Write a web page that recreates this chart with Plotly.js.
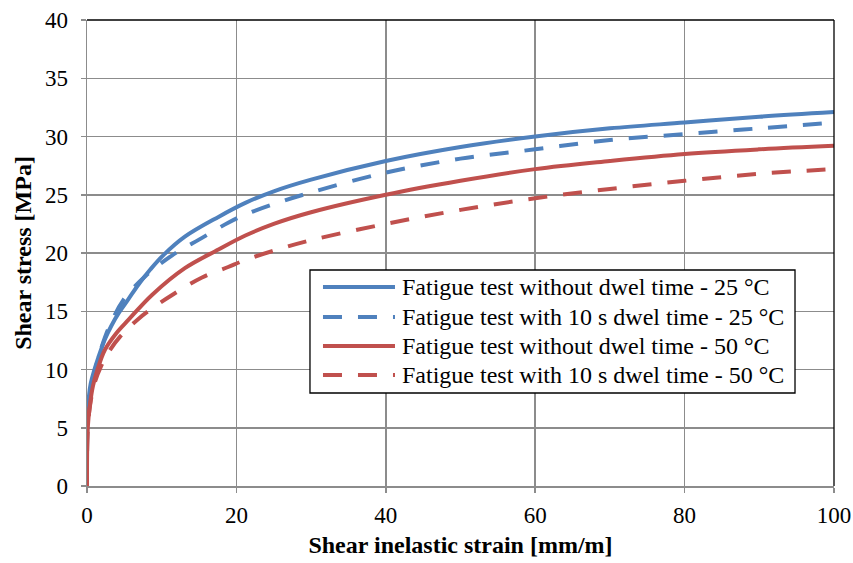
<!DOCTYPE html>
<html>
<head>
<meta charset="utf-8">
<script src="https://cdn.plot.ly/plotly-3.0.1.min.js"></script>
<style>html,body{margin:0;padding:0;background:#fff;}#chart{width:853px;height:563px;}</style>
</head>
<body>
<div id="chart"></div>
<script>
// Series data
const seriesNames = [
  "Fatigue test without dwel time - 25 °C",
  "Fatigue test with 10 s dwel time - 25 °C",
  "Fatigue test without dwel time - 50 °C",
  "Fatigue test with 10 s dwel time - 50 °C"
];
const x25NoDwell = [0, 0.05, 0.2, 0.5, 1, 1.5, 2.4, 3.3, 4.3, 5.5, 6.9, 8.5, 10.2, 13.1, 17.6, 21.2, 25, 30, 40, 50, 60, 70, 80, 90, 100];
const y25NoDwell = [0, 5.5, 7.3, 8.8, 10, 11.0, 12.6, 13.8, 14.9, 16.0, 17.3, 18.6, 19.8, 21.4, 23.1, 24.3, 25.3, 26.3, 27.9, 29.1, 30.0, 30.7, 31.2, 31.7, 32.1];

const x25Dwell = [0, 0.1, 0.4, 1.1, 2, 3, 4.9, 7.8, 11.4, 15.4, 18.9, 21.2, 25, 30, 40, 50, 60, 70, 80, 90, 100];
const y25Dwell = [0, 6, 8, 10, 12, 13.7, 16.0, 18.0, 19.8, 21.3, 22.6, 23.3, 24.2, 25.2, 26.9, 28.1, 28.9, 29.7, 30.2, 30.7, 31.2];

const x50NoDwell = [0, 0.1, 0.4, 0.8, 1.4, 2.4, 3.9, 5.6, 8.7, 13.1, 17.6, 21.2, 25, 30, 40, 50, 60, 70, 80, 90, 100];
const y50NoDwell = [0, 5, 7, 8.6, 10, 11.7, 13.1, 14.3, 16.4, 18.7, 20.3, 21.5, 22.5, 23.5, 25.0, 26.2, 27.2, 27.9, 28.5, 28.9, 29.2];

const x50Dwell = [0, 0.1, 0.5, 1.0, 1.9, 3, 4.4, 6.8, 9.5, 11.4, 15.4, 18.9, 21.2, 25, 30, 40, 50, 60, 70, 80, 90, 100];
const y50Dwell = [0, 5, 7.3, 8.8, 10.3, 11.6, 12.8, 14.3, 15.6, 16.4, 17.9, 18.8, 19.4, 20.2, 21.1, 22.5, 23.7, 24.7, 25.5, 26.2, 26.8, 27.2];

const xTicks = [0, 20, 40, 60, 80, 100];
const yTicks = [0, 5, 10, 15, 20, 25, 30, 35, 40];

const blue = "#4F81BD", red = "#C0504D";
const colors = [blue, blue, red, red];
const dashPat = "19px,16px";
const dashes = ["solid", dashPat, "solid", dashPat];
const lineW = 4;

function tr(x, y, i) {
  return {x: x, y: y, name: seriesNames[i], type: "scatter", mode: "lines", showlegend: false,
    line: {color: colors[i], width: lineW, dash: dashes[i], shape: "spline", smoothing: 1}};
}
const data = [
  tr(x25NoDwell, y25NoDwell, 0),
  tr(x25Dwell, y25Dwell, 1),
  tr(x50NoDwell, y50NoDwell, 2),
  tr(x50Dwell, y50Dwell, 3)
];

const font = "Times New Roman, Liberation Serif, serif";
const tickFs = 23, titleFs = 24, legendFs = 24;

// Legend box (paper coordinates), drawn as shapes + annotations
const legBox = {x0: 0.2985, x1: 0.9478, y0: 0.1996, y1: 0.4635};
const legRowsY = [0.4270, 0.3627, 0.3004, 0.2382];
const legSample = {x0: 0.3159, x1: 0.4123};
const legTextX = 0.4190;

const shapes = [
  {type: "line", xref: "paper", yref: "paper", x0: 0, x1: 1, y0: 1, y1: 1, line: {color: "#000", width: 1.3}},
  {type: "line", xref: "paper", yref: "paper", x0: 1, x1: 1, y0: 0, y1: 1, line: {color: "#000", width: 1.3}},
  {type: "rect", xref: "paper", yref: "paper", x0: legBox.x0, x1: legBox.x1, y0: legBox.y0, y1: legBox.y1,
    fillcolor: "#fff", line: {color: "#000", width: 1.3}, layer: "above"}
];
const annotations = [];
seriesNames.forEach((n, i) => {
  shapes.push({type: "line", xref: "paper", yref: "paper", layer: "above",
    x0: legSample.x0, x1: legSample.x1, y0: legRowsY[i], y1: legRowsY[i],
    line: {color: colors[i], width: lineW, dash: dashes[i]}});
  annotations.push({xref: "paper", yref: "paper", x: legTextX, y: legRowsY[i],
    xanchor: "left", yanchor: "middle", showarrow: false, text: n,
    font: {family: font, size: legendFs, color: "#000"}});
});

const layout = {
  width: 853, height: 563,
  margin: {l: 87, r: 19, t: 20, b: 77},
  paper_bgcolor: "#fff", plot_bgcolor: "#fff",
  font: {family: font, size: tickFs, color: "#000"},
  showlegend: false,
  xaxis: {range: [0, 100], tickvals: xTicks, ticktext: xTicks.map(String),
    showgrid: true, gridcolor: "#8c8c8c", gridwidth: 1.5,
    showline: true, linecolor: "#8c8c8c", linewidth: 1.5,
    ticks: "outside", ticklen: 5, tickcolor: "#8c8c8c", tickwidth: 1.5,
    ticklabelstandoff: 3,
    zeroline: false, tickfont: {family: font, size: tickFs},
    title: {text: "<b>Shear inelastic strain [mm/m]</b>", font: {family: font, size: titleFs}, standoff: 9}},
  yaxis: {range: [0, 40], tickvals: yTicks, ticktext: yTicks.map(String),
    showgrid: true, gridcolor: "#8c8c8c", gridwidth: 1.5,
    showline: true, linecolor: "#8c8c8c", linewidth: 1.5,
    ticks: "outside", ticklen: 5, tickcolor: "#8c8c8c", tickwidth: 1.5,
    ticklabelstandoff: 8,
    zeroline: false, tickfont: {family: font, size: tickFs},
    title: {text: "<b>Shear stress [MPa]</b>", font: {family: font, size: titleFs}, standoff: 6}},
  shapes: shapes,
  annotations: annotations
};
Plotly.newPlot("chart", data, layout, {displayModeBar: false, staticPlot: true});
</script>
</body>
</html>
